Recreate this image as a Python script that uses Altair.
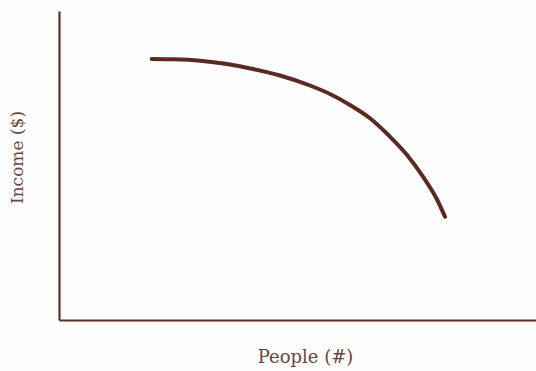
import altair as alt
import pandas as pd

# Income curve as people increase
people = [19.43, 23.90, 29.56, 35.22, 40.67, 46.33, 52.62, 56.81, 61.01, 65.20, 69.39, 72.96, 76.31, 79.25, 80.92]
income = [84.47, 84.37, 83.92, 82.85, 81.23, 79.13, 75.89, 73.14, 69.58, 65.28, 59.32, 53.40, 46.38, 39.00, 33.43]

df = pd.DataFrame({"people": people, "income": income})

axis_color = "#5e3128"
text_color = "#6a4640"

x_axis = alt.Axis(
    title="People (#)", labels=False, ticks=False, grid=False,
    domainColor=axis_color, domainWidth=2.2,
    titleFont="DejaVu Serif", titleFontSize=18, titleFontWeight="normal",
    titleColor=text_color, titleX=246, titleY=37,
    titleAlign="center", titleBaseline="middle",
)
y_axis = alt.Axis(
    title="Income ($)", labels=False, ticks=False, grid=False,
    domainColor=axis_color, domainWidth=2.2,
    titleFont="DejaVu Serif", titleFontSize=17, titleFontWeight="normal",
    titleColor=text_color, titleX=-42, titleY=146, titleAngle=-90,
    titleAlign="center", titleBaseline="middle",
)

chart = (
    alt.Chart(df)
    .mark_line(color="#5a2a20", strokeWidth=4, strokeCap="round", interpolate="monotone")
    .encode(
        x=alt.X("people:Q", scale=alt.Scale(domain=[0, 100], nice=False, zero=False), axis=x_axis),
        y=alt.Y("income:Q", scale=alt.Scale(domain=[0, 100], nice=False, zero=False), axis=y_axis),
    )
    .properties(
        width=477, height=309,
        autosize=alt.AutoSizeParams(type="none"),
        padding={"left": 59, "top": 11, "right": 0, "bottom": 51},
        background="#fdfdfd",
    )
    .configure_view(stroke=None)
)

chart.save("out.html", embed_options={"renderer": "svg", "actions": False})
